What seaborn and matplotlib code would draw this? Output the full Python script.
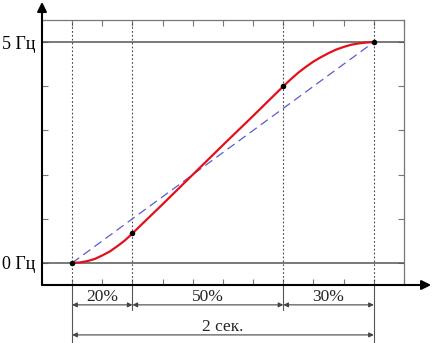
import matplotlib
matplotlib.use("Agg")
import matplotlib.pyplot as plt
import seaborn as sns
import pandas as pd

# ---- data ----
t_curve = [0, 0.025, 0.05, 0.075, 0.10, 0.125, 0.15, 0.175, 0.20,
           0.30, 0.40, 0.50, 0.60, 0.70,
           0.725, 0.75, 0.775, 0.80, 0.825, 0.85, 0.875, 0.90, 0.925, 0.95, 0.975, 1.00]
f_curve = [0, 0.01, 0.04, 0.09, 0.17, 0.26, 0.38, 0.51, 0.67,
           1.33, 2.00, 2.67, 3.33, 4.00,
           4.16, 4.31, 4.44, 4.56, 4.66, 4.75, 4.83, 4.89, 4.94, 4.97, 4.99, 5.00]
t_linear = [0, 1.0]
f_linear = [0, 5.0]
key_t = [0, 0.2, 0.7, 1.0]
key_f = [0, 0.67, 4.0, 5.0]
segment_labels = ["20%", "50%", "30%"]
total_label = "2 сек."
freq_ticks = [0, 5]
freq_labels = ["0 Гц", "5 Гц"]

sns.set_style("white")
plt.rcParams['font.family'] = ['Liberation Serif', 'DejaVu Serif']

W, H = 435, 343
fig = plt.figure(figsize=(W / 100, H / 100), dpi=100)
ax = fig.add_axes([42 / W, (H - 285) / H, (404 - 42) / W, (285 - 20) / H])
ax.set_xlim(-0.1, 1.1)
ax.set_ylim(-0.5, 5.5)

# spines
for s in ["top", "right"]:
    ax.spines[s].set_color("#777777")
    ax.spines[s].set_linewidth(0.9)
for s in ["left", "bottom"]:
    ax.spines[s].set_visible(False)

# ticks (inward, no labels except freq)
xt = [round(-0.1 + 0.1 * i, 2) for i in range(13)]
ax.set_xticks(xt)
ax.set_xticklabels([])
ax.set_yticks(range(6))
ylab = [""] * 6
for v, l in zip(freq_ticks, freq_labels):
    ylab[v] = l
ax.set_yticklabels(ylab, fontsize=13)
ax.tick_params(axis="both", direction="in", length=4, width=0.8, color="#777777",
               top=True, right=True, bottom=True, left=True)
ax.tick_params(axis="y", pad=5, labelcolor="black")

# horizontal reference lines at 0 and 5 Hz
for v in freq_ticks:
    ax.axhline(v, color="#555555", lw=1.1, zorder=1)

# dotted verticals
for tv in key_t:
    ax.axvline(tv, color="#444444", lw=0.8, ls=(0, (1.5, 2)), zorder=1)

# lines
df_c = pd.DataFrame({"t": t_curve, "f": f_curve})
df_l = pd.DataFrame({"t": t_linear, "f": f_linear})
sns.lineplot(data=df_l, x="t", y="f", ax=ax, color="#5a5ad2", lw=0.9,
             dashes=False, estimator=None, zorder=3).lines[-1].set_dashes((7, 4))
sns.lineplot(data=df_c, x="t", y="f", ax=ax, color="#e3101c", lw=1.6,
             estimator=None, zorder=4)
sns.scatterplot(x=key_t, y=key_f, ax=ax, color="black", s=16, zorder=5,
                edgecolor="black", linewidth=0)
ax.set_xlabel("")
ax.set_ylabel("")

# main axes with arrows
ax.annotate("", xy=(-0.1, 5.91), xytext=(-0.1, -0.5),
            arrowprops=dict(arrowstyle="-|>", mutation_scale=14, lw=1.5,
                            color="black", shrinkA=0, shrinkB=0),
            annotation_clip=False)
ax.annotate("", xy=(1.19, -0.5), xytext=(-0.1, -0.5),
            arrowprops=dict(arrowstyle="-|>", mutation_scale=14, lw=1.5,
                            color="black", shrinkA=0, shrinkB=0),
            annotation_clip=False)

# extension lines below axis
y_row1, y_row2 = -0.95, -1.63
for tv in key_t:
    yend = -1.82 if tv in (key_t[0], key_t[-1]) else -1.07
    ax.plot([tv, tv], [-0.5, yend], color="#555555", lw=0.8, clip_on=False)

arrow_kw = dict(arrowstyle="<|-|>", mutation_scale=7, lw=0.8, color="#444444",
                shrinkA=0, shrinkB=0)
for i, lab in enumerate(segment_labels):
    a, b = key_t[i], key_t[i + 1]
    ax.annotate("", xy=(b, y_row1), xytext=(a, y_row1), arrowprops=arrow_kw,
                annotation_clip=False)
    ax.text((a + b) / 2, -0.77, lab, ha="center", va="center", fontsize=12.5)
ax.annotate("", xy=(key_t[-1], y_row2), xytext=(key_t[0], y_row2),
            arrowprops=arrow_kw, annotation_clip=False)
ax.text((key_t[0] + key_t[-1]) / 2, -1.45, total_label, ha="center",
        va="center", fontsize=12.5)

fig.savefig("out.png", dpi=100)
